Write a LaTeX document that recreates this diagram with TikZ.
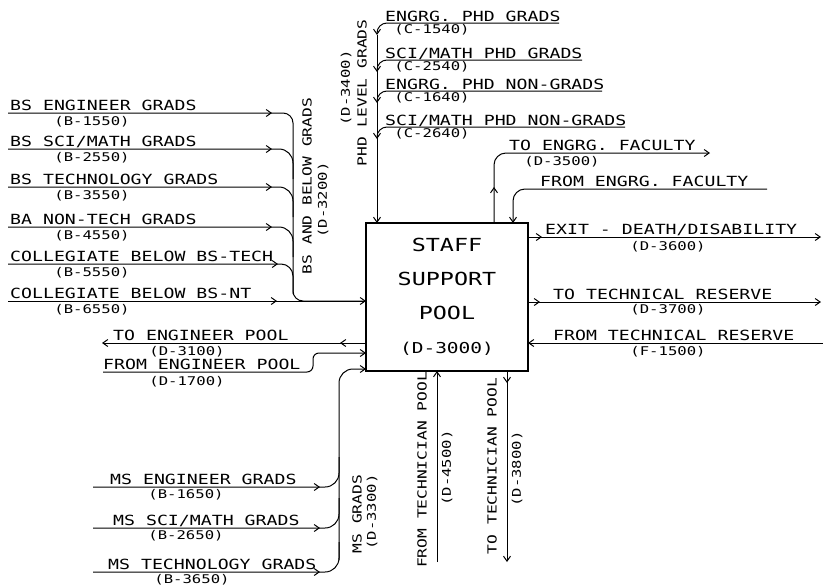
\documentclass[tikz,border=0pt]{standalone}
\usepackage{fontspec}
\usepackage{tikz}
\usetikzlibrary{arrows.meta,decorations.markings}

\newfontfamily\cadfont[FakeStretch=1.3]{DejaVu Sans Mono}
\newcommand{\lblfont}{\cadfont\fontsize{14}{14}\selectfont}
\newcommand{\vlblfont}{\cadfont\fontsize{12.5}{12.5}\selectfont}
\newcommand{\codefont}{\cadfont\fontsize{12}{12}\selectfont}
\newcommand{\poolfont}{\cadfont\fontsize{18}{34}\selectfont}

\tikzset{
    flowline/.style={line width=1pt},
    endtip/.style={-{Straight Barb[length=5pt,width=7pt]}},
    midtip/.style={postaction={decorate,decoration={markings,
        mark=at position #1 with {\arrow{Straight Barb[length=5pt,width=7pt]}}}}},
    lbl/.style={font=\lblfont, inner sep=0pt, anchor=base west},
    code/.style={font=\codefont, inner sep=0pt},
    vlbl/.style={font=\vlblfont, inner sep=0pt, rotate=90},
    vcode/.style={font=\codefont, inner sep=0pt, rotate=90},
}

\begin{document}
\begin{tikzpicture}[x=1pt, y=-1pt]
            \useasboundingbox (0,0) rectangle (823,587);

            % staff support pool
            \node[draw, line width=1.4pt, minimum width=162pt, minimum height=148pt,
                  font=\poolfont, align=center] (pool) at (447,297)
                  {STAFF\\SUPPORT\\POOL\\{\fontsize{15}{34}\selectfont (D-3000)}};

            % BS and below grads
            \coordinate (bs1) at (8,113);
            \coordinate (bs2) at (8,149);
            \coordinate (bs3) at (8,187);
            \coordinate (bs4) at (8,227);
            \coordinate (bs5) at (8,264);
            \coordinate (bs6) at (8,301);
            \coordinate (bs2j) at (293,179);
            \coordinate (bs3j) at (293,217);
            \coordinate (bs4j) at (293,257);
            \coordinate (bs5j) at (293,294);
            \coordinate (bsbot) at (293,301);
            \coordinate (bs6e) at (366,301);
            \node[lbl] (bs1l) at (10,110) {BS ENGINEER GRADS};
            \node[code] (bs1c) at (92,122) {(B-1550)};
            \node[lbl] (bs2l) at (10,146) {BS SCI/MATH GRADS};
            \node[code] (bs2c) at (92,158) {(B-2550)};
            \node[lbl] (bs3l) at (10,184) {BS TECHNOLOGY GRADS};
            \node[code] (bs3c) at (92,196) {(B-3550)};
            \node[lbl] (bs4l) at (10,224) {BA NON-TECH GRADS};
            \node[code] (bs4c) at (92,236) {(B-4550)};
            \node[lbl] (bs5l) at (10,261) {COLLEGIATE BELOW BS-TECH};
            \node[code] (bs5c) at (92,273) {(B-5550)};
            \node[lbl] (bs6l) at (10,298) {COLLEGIATE BELOW BS-NT};
            \node[code] (bs6c) at (92,310) {(B-6550)};
            \node[vlbl] (bsbus) at (307,186) {BS AND BELOW GRADS};
            \node[vcode] (bsbusc) at (323,200) {(D-3200)};

            \draw[flowline, midtip=264pt, rounded corners=10pt] (bs1) -| (bsbot) -- (bs6e); % bus
            \draw[flowline, midtip=264pt, rounded corners=14pt] (bs2) -| (bs2j);
            \draw[flowline, midtip=264pt, rounded corners=14pt] (bs3) -| (bs3j);
            \draw[flowline, midtip=264pt, rounded corners=14pt] (bs4) -| (bs4j);
            \draw[flowline, midtip=270pt, rounded corners=12pt] (bs5) -| (bs5j);
            \draw[flowline, endtip, midtip=269pt] (bs6) -- (bs6e);

            % PHD level grads
            \coordinate (phd1) at (559,23);
            \coordinate (phd2) at (582,60);
            \coordinate (phd3) at (602,91);
            \coordinate (phd4) at (625,127);
            \coordinate (phd1j) at (377,35);
            \coordinate (phd2j) at (377,72);
            \coordinate (phd3j) at (377,103);
            \coordinate (phd4j) at (377,139);
            \coordinate (phde) at (377,223);
            \node[lbl] (phd1l) at (385,21) {ENGRG. PHD GRADS};
            \node[code] (phd1c) at (432,30) {(C-1540)};
            \node[lbl] (phd2l) at (385,58) {SCI/MATH PHD GRADS};
            \node[code] (phd2c) at (432,67) {(C-2540)};
            \node[lbl] (phd3l) at (385,89) {ENGRG. PHD NON-GRADS};
            \node[code] (phd3c) at (432,98) {(C-1640)};
            \node[lbl] (phd4l) at (385,125) {SCI/MATH PHD NON-GRADS};
            \node[code] (phd4c) at (432,134) {(C-2640)};
            \node[vcode] (phdbusc) at (346,88) {(D-3400)};
            \node[vlbl] (phdbus) at (362,93) {PHD LEVEL GRADS};

            \draw[flowline, endtip, rounded corners=10pt] (phd1) -| (phd1j);
            \draw[flowline, endtip, rounded corners=10pt] (phd2) -| (phd2j);
            \draw[flowline, endtip, rounded corners=10pt] (phd3) -| (phd3j);
            \draw[flowline, endtip, rounded corners=10pt] (phd4) -| (phd4j);
            \draw[flowline, endtip] (phd1j) -- (phde); % bus

            % engrg. faculty
            \coordinate (tofacs) at (494,223);
            \coordinate (toface) at (710,153);
            \coordinate (fromfacs) at (767,189);
            \coordinate (fromface) at (513,223);
            \node[lbl] (tofacl) at (509,150) {TO ENGRG. FACULTY};
            \node[code] (tofacc) at (562,162) {(D-3500)};
            \node[lbl] (fromfacl) at (540,186) {FROM ENGRG. FACULTY};

            \draw[flowline, endtip, midtip=36pt, rounded corners=12pt] (tofacs) |- (toface);
            \draw[flowline, endtip, rounded corners=12pt] (fromfacs) -| (fromface);

            % right side
            \coordinate (exits) at (528,237);
            \coordinate (exite) at (821,237);
            \coordinate (totrs) at (528,302);
            \coordinate (totre) at (821,302);
            \coordinate (fromtrs) at (823,343);
            \coordinate (fromtre) at (528,343);
            \node[lbl] (exitl) at (545,234) {EXIT - DEATH/DISABILITY};
            \node[code] (exitc) at (668,247) {(D-3600)};
            \node[lbl] (totrl) at (553,299) {TO TECHNICAL RESERVE};
            \node[code] (totrc) at (668,310) {(D-3700)};
            \node[lbl] (fromtrl) at (553,340) {FROM TECHNICAL RESERVE};
            \node[code] (fromtrc) at (668,352) {(F-1500)};

            \draw[flowline, endtip, midtip=14pt] (exits) -- (exite);
            \draw[flowline, endtip, midtip=12pt] (totrs) -- (totre);
            \draw[flowline, endtip] (fromtrs) -- (fromtre);

            % engineer pool
            \coordinate (toeps) at (366,343);
            \coordinate (toepe) at (102,343);
            \coordinate (feps) at (103,372);
            \coordinate (fepm) at (313,353);
            \coordinate (fepe) at (366,353);
            \node[lbl] (toepl) at (113,340) {TO ENGINEER POOL};
            \node[code] (toepc) at (187,352) {(D-3100)};
            \node[lbl] (fepl) at (103,369) {FROM ENGINEER POOL};
            \node[code] (fepc) at (187,382) {(D-1700)};

            \draw[flowline, endtip, midtip=26pt] (toeps) -- (toepe);
            \draw[flowline, endtip, rounded corners=6pt] (feps) -| (fepm) -- (fepe);

            % MS grads
            \coordinate (ms1) at (93,487);
            \coordinate (ms2) at (93,528);
            \coordinate (ms3) at (93,572);
            \coordinate (ms1j) at (339,457);
            \coordinate (ms2j) at (339,498);
            \coordinate (ms3j) at (339,542);
            \coordinate (msbot) at (339,560);
            \coordinate (mse) at (366,369);
            \node[lbl] (ms1l) at (110,484) {MS ENGINEER GRADS};
            \node[code] (ms1c) at (186,495) {(B-1650)};
            \node[lbl] (ms2l) at (113,525) {MS SCI/MATH GRADS};
            \node[code] (ms2c) at (186,536) {(B-2650)};
            \node[lbl] (ms3l) at (108,569) {MS TECHNOLOGY GRADS};
            \node[code] (ms3c) at (192,580) {(B-3650)};
            \node[vlbl] (msbus) at (357,514) {MS GRADS};
            \node[vcode] (msbusc) at (372,512) {(D-3300)};

            \draw[flowline, midtip=227pt, rounded corners=14pt] (ms1) -| (ms1j);
            \draw[flowline, midtip=227pt, rounded corners=14pt] (ms2) -| (ms2j);
            \draw[flowline, midtip=227pt, rounded corners=14pt] (ms3) -| (ms3j);
            \draw[flowline, endtip, rounded corners=14pt] (msbot) |- (mse); % bus

            % technician pool
            \coordinate (ftps) at (437,562);
            \coordinate (ftpe) at (437,371);
            \coordinate (ttps) at (507,371);
            \coordinate (ttpe) at (507,562);
            \node[vlbl] (ftpl) at (422,470) {FROM TECHNICIAN POOL};
            \node[vcode] (ftpc) at (447,468) {(D-4500)};
            \node[vlbl] (ttpl) at (492,466) {TO TECHNICIAN POOL};
            \node[vcode] (ttpc) at (517,469) {(D-3800)};

            \draw[flowline, endtip] (ftps) -- (ftpe);
            \draw[flowline, endtip, midtip=12pt] (ttps) -- (ttpe);
        \end{tikzpicture}
\end{document}
